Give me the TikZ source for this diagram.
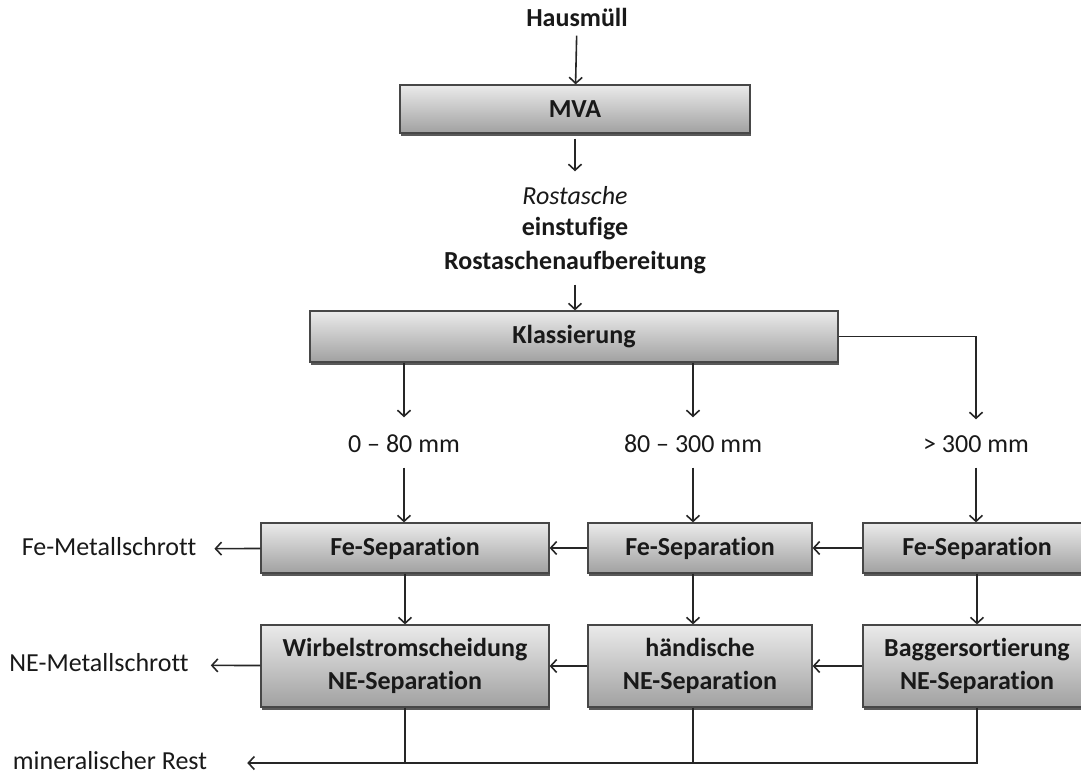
\documentclass[tikz,border=0pt]{standalone}
\usepackage{fontspec}
\setmainfont{Carlito}[Ligatures={NoCommon}]
\usetikzlibrary{arrows.meta,shadows}
\begin{document}
\begin{tikzpicture}[x=1pt,y=-1pt,
  every node/.style={text=black!90},
  lbl/.style={font=\fontsize{26}{30}\selectfont, inner sep=0pt, text height=18pt, text depth=5pt},
  bl/.style={lbl, font=\fontsize{26}{30}\selectfont\bfseries},
  box/.style={rectangle, draw=black!72, line width=1.2pt, top color=gray!16, bottom color=gray!74,
    font=\fontsize{26}{33}\selectfont\bfseries, align=center, inner sep=0pt,
    drop shadow={shadow xshift=1.2pt, shadow yshift=-2.5pt, fill=black, opacity=0.65}},
  arr/.style={draw=black!85, line width=1.6pt, -{Straight Barb[length=6pt,width=13pt,line width=1.6pt]}},
  ln/.style={draw=black!85, line width=1.6pt}
]
\useasboundingbox (0,0) rectangle (1081,776);

% top part
\node[bl] (haus) at (577,20) {Hausmüll};
\node[box, minimum width=350, minimum height=48] (mva) at (575,109) {MVA};
\node[lbl, font=\fontsize{26}{30}\selectfont\itshape] (rost) at (575,198) {Rostasche};
\node[font=\fontsize{26}{34}\selectfont\bfseries, align=center, inner sep=0pt] (einst) at (575,246) {einstufige\\Rostaschenaufbereitung};
\node[box, minimum width=528, minimum height=51] (klass) at (574,336.5) {Klassierung};

% size fractions
\node[lbl] (s1) at (404,446) {0 – 80 mm};
\node[lbl] (s2) at (693,446) {80 – 300 mm};
\node[lbl] (s3) at (976,446) {> 300 mm};

% Fe separation row
\node[box, minimum width=288, minimum height=50] (fe1) at (405,548) {Fe-Separation};
\node[box, minimum width=224, minimum height=50] (fe2) at (700,548) {Fe-Separation};
\node[box, minimum width=228, minimum height=50] (fe3) at (977,548) {Fe-Separation};

% NE separation row
\node[box, minimum width=288, minimum height=82] (ne1) at (405,666) {Wirbelstromscheidung\\NE-Separation};
\node[box, minimum width=224, minimum height=82] (ne2) at (700,666) {händische\\NE-Separation};
\node[box, minimum width=228, minimum height=82] (ne3) at (977,666) {Baggersortierung\\NE-Separation};

% outputs
\node[lbl] (femet) at (109,549) {Fe-Metallschrott};
\node[lbl] (nemet) at (99,665) {NE-Metallschrott};
\node[lbl] (rest) at (110,763) {mineralischer Rest};

% connectors top
\draw[arr, shorten <=4pt] (haus) -- (mva);
\draw[arr, shorten <=5pt, shorten >=15pt] (mva) -- (rost);
\draw[arr, shorten <=10pt] (einst.south) -- (einst.south |- klass.north);

\draw[arr, shorten >=17pt] (s1 |- klass.south) -- (s1);
\draw[arr, shorten >=17pt] (s2 |- klass.south) -- (s2);
\draw[arr, shorten >=15pt] (klass.east) -| (s3);

\draw[arr, shorten <=10pt] (s1) -- (s1 |- fe1.north);
\draw[arr, shorten <=10pt] (s2) -- (s2 |- fe2.north);
\draw[arr, shorten <=10pt] (s3) -- (s3 |- fe3.north);

% vertical between rows
\draw[arr] (fe1) -- (ne1);
\draw[arr] (s2 |- fe2.south) -- (s2 |- ne2.north);
\draw[arr] (fe3) -- (ne3);

% horizontal
\draw[arr] (fe3) -- (fe2);
\draw[arr] (fe2) -- (fe1);
\draw[arr, shorten >=18pt] (fe1) -- (femet);
\draw[arr] (ne3) -- (ne2);
\draw[arr] (ne2) -- (ne1);
\draw[arr, shorten >=22pt] (ne1) -- (nemet);

% mineral residue
\draw[ln] (ne1.south) -- (ne1.south |- rest);
\draw[ln] (s2 |- ne2.south) -- (s2 |- rest);
\draw[arr, shorten >=40pt] (ne3.south) |- (rest);
\end{tikzpicture}
\end{document}
